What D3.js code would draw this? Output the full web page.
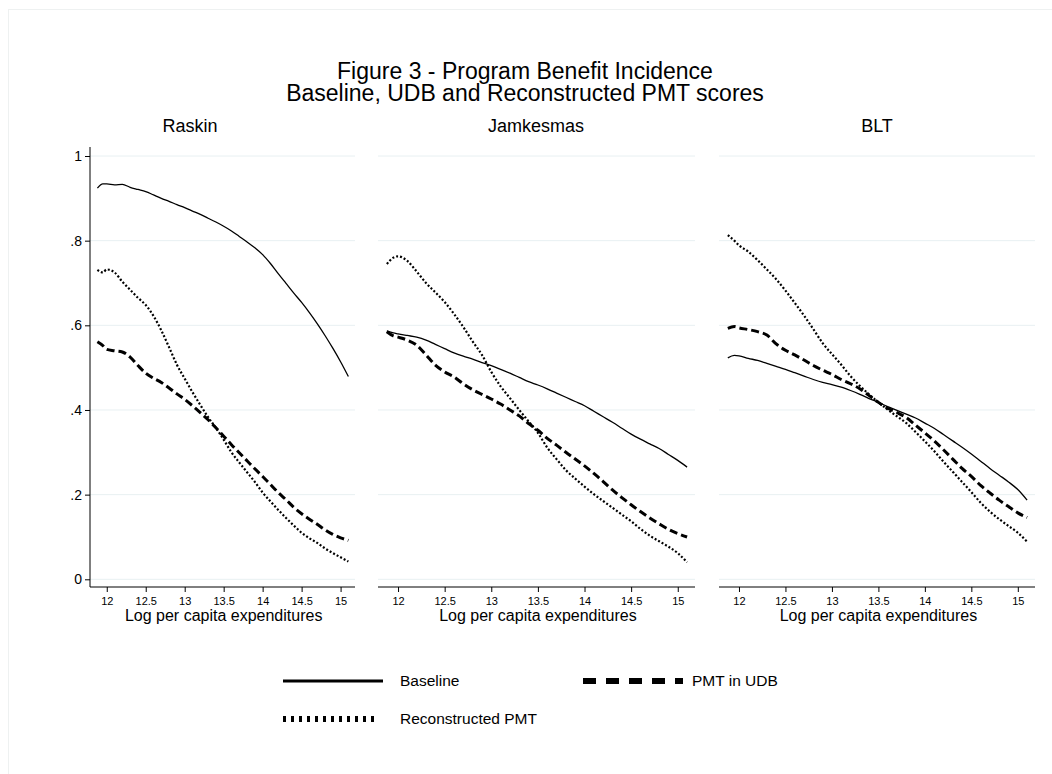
<!DOCTYPE html>
<html>
<head>
<meta charset="utf-8">
<script src="https://cdn.jsdelivr.net/npm/d3@7"></script>
<style>
  body { margin: 0; background: #fff; }
  svg text { font-family: "Liberation Sans", Arial, sans-serif; fill: #000; }
</style>
</head>
<body>
<div id="chart"></div>
<script>
// Data
const panelNames = ["Raskin", "Jamkesmas", "BLT"];
const seriesNames = ["Baseline", "PMT in UDB", "Reconstructed PMT"];
const xTicks = [12, 12.5, 13, 13.5, 14, 14.5, 15];
const yTicks = [0, 0.2, 0.4, 0.6, 0.8, 1];
const yTickLabels = ["0", ".2", ".4", ".6", ".8", "1"];

const logExp = [11.88, 11.95, 12.0, 12.1, 12.2, 12.3, 12.4, 12.5, 12.6, 12.7, 12.8, 12.9,
  13.0, 13.1, 13.2, 13.3, 13.4, 13.5, 13.6, 13.7, 13.8, 13.9, 14.0, 14.1, 14.2, 14.3,
  14.4, 14.5, 14.6, 14.7, 14.8, 14.9, 15.0, 15.1];

const raskinBase = [.924, .934, .934, .932, .933, .926, .921, .916, .908, .900, .893, .885,
  .878, .870, .862, .853, .844, .834, .823, .810, .797, .783, .767, .746, .722, .699,
  .676, .654, .630, .604, .576, .546, .514, .479];
const raskinUdb = [.561, .552, .543, .540, .537, .525, .505, .487, .475, .465, .452, .438,
  .425, .410, .394, .377, .358, .338, .318, .299, .280, .261, .243, .224, .205, .188,
  .170, .155, .142, .130, .117, .106, .098, .092];
const raskinRec = [.731, .725, .732, .725, .703, .684, .665, .648, .622, .588, .548, .507,
  .474, .442, .412, .383, .358, .330, .300, .276, .253, .230, .205, .184, .164, .145,
  .127, .110, .097, .086, .073, .062, .052, .042];

const jamBase = [.587, .582, .580, .576, .572, .565, .555, .545, .535, .527, .520, .512,
  .505, .496, .487, .477, .467, .459, .450, .440, .430, .420, .410, .397, .384, .371,
  .357, .343, .331, .320, .309, .295, .281, .265];
const jamUdb = [.585, .575, .572, .565, .553, .530, .506, .490, .478, .462, .448, .437,
  .426, .414, .400, .386, .368, .352, .333, .317, .300, .284, .268, .250, .231, .211,
  .193, .176, .160, .145, .131, .118, .108, .100];
const jamRec = [.745, .760, .763, .752, .727, .700, .678, .655, .627, .596, .562, .530,
  .490, .456, .428, .400, .373, .346, .311, .284, .258, .238, .219, .201, .185, .169,
  .153, .137, .119, .103, .090, .077, .062, .040];

const bltBase = [.523, .529, .528, .522, .517, .510, .503, .496, .488, .480, .472, .465,
  .460, .454, .446, .437, .427, .418, .408, .399, .390, .381, .369, .357, .342, .327,
  .312, .296, .279, .262, .246, .230, .212, .187];
const bltUdb = [.593, .597, .594, .590, .585, .577, .556, .541, .530, .518, .505, .494,
  .484, .472, .462, .450, .434, .418, .404, .394, .382, .364, .346, .327, .306, .284,
  .262, .243, .222, .204, .187, .172, .157, .146];
const bltRec = [.813, .800, .789, .774, .754, .732, .709, .682, .653, .623, .591, .558,
  .532, .507, .480, .457, .437, .418, .401, .385, .369, .348, .326, .303, .278, .254,
  .230, .206, .181, .160, .142, .126, .110, .089];

// Layout
const W = 1052, H = 774;
const PLOT_TOP = 147, PLOT_BOTTOM = 587;
const panelBox = [
  {left: 90, right: 355, titleX: 190},
  {left: 378, right: 695, titleX: 536},
  {left: 719, right: 1035, titleX: 877}
];
const X_DOMAIN = [11.785, 15.185];

const styles = [
  {width: 1.3, dash: null},
  {width: 3, dash: "8,4"},
  {width: 2.2, dash: "2,2"}
];
const legendStyles = [
  {width: 3, dash: null},
  {width: 6, dash: "13,10"},
  {width: 6, dash: "3,5"}
];

const panels = [
  [raskinBase, raskinUdb, raskinRec],
  [jamBase, jamUdb, jamRec],
  [bltBase, bltUdb, bltRec]
].map((ser, i) => ({
  name: panelNames[i],
  box: panelBox[i],
  series: ser.map(vals => logExp.map((x, j) => ({x: x, y: vals[j]})))
}));

const svg = d3.select("#chart").append("svg")
  .attr("width", W)
  .attr("height", H);

svg.append("rect").attr("width", W).attr("height", H).attr("fill", "#fff");
// faint outer frame
svg.append("rect")
  .attr("x", 8.5).attr("y", 9.5)
  .attr("width", 1100).attr("height", 800)
  .attr("fill", "none").attr("stroke", "#eef1f1");

// Title
const title = svg.append("g").attr("text-anchor", "middle").style("font-size", "23px");
title.append("text").attr("x", 525).attr("y", 79).text("Figure 3 - Program Benefit Incidence");
title.append("text").attr("x", 525).attr("y", 101).text("Baseline, UDB and Reconstructed PMT scores");

const y = d3.scaleLinear().domain([0, 1]).range([579.3, 156]);

panels.forEach((p, i) => {
  const x = d3.scaleLinear().domain(X_DOMAIN).range([p.box.left, p.box.right]);
  const g = svg.append("g");

  g.append("text")
    .attr("x", p.box.titleX).attr("y", 132)
    .attr("text-anchor", "middle")
    .style("font-size", "18px")
    .text(p.name);

  // grid lines
  g.selectAll(".grid").data(yTicks).join("line")
    .attr("x1", p.box.left).attr("x2", p.box.right)
    .attr("y1", d => y(d)).attr("y2", d => y(d))
    .attr("stroke", "#e8f0f2").attr("stroke-width", 1);

  // x axis
  const xAxis = d3.axisBottom(x).tickValues(xTicks).tickSize(5).tickPadding(5.5)
    .tickFormat(d3.format(""));
  const xg = g.append("g").attr("transform", `translate(0,${PLOT_BOTTOM})`).call(xAxis);
  xg.select(".domain").attr("d", `M${p.box.left},0H${p.box.right}`).attr("stroke", "#000");
  xg.selectAll(".tick text").style("font-size", "11px").attr("fill", "#000");
  xg.selectAll(".tick line").attr("stroke", "#000");

  g.append("text")
    .attr("x", (x(12) + x(15)) / 2).attr("y", 621)
    .attr("text-anchor", "middle")
    .style("font-size", "16px")
    .text("Log per capita expenditures");

  if (i === 0) {
    const yAxis = d3.axisLeft(y).tickValues(yTicks).tickSize(5).tickPadding(3)
      .tickFormat((d, k) => yTickLabels[k]);
    const yg = g.append("g").attr("transform", `translate(${p.box.left},0)`).call(yAxis);
    yg.select(".domain").attr("d", `M0,${PLOT_TOP}V${PLOT_BOTTOM}`).attr("stroke", "#000");
    yg.selectAll(".tick text").style("font-size", "14px").attr("fill", "#000");
    yg.selectAll(".tick line").attr("stroke", "#000");
  }

  const line = d3.line().x(d => x(d.x)).y(d => y(d.y)).curve(d3.curveMonotoneX);
  g.selectAll(".series").data(p.series).join("path")
    .attr("d", line)
    .attr("fill", "none")
    .attr("stroke", "#000")
    .attr("stroke-width", (d, k) => styles[k].width)
    .attr("stroke-dasharray", (d, k) => styles[k].dash);
});

// Legend
const legendPos = [
  {x: 283, y: 681, len: 100, tx: 400},
  {x: 583, y: 681, len: 100, tx: 692},
  {x: 283, y: 719, len: 95, tx: 400}
];
const legend = svg.append("g");
seriesNames.forEach((name, k) => {
  const pos = legendPos[k];
  legend.append("line")
    .attr("x1", pos.x).attr("x2", pos.x + pos.len)
    .attr("y1", pos.y).attr("y2", pos.y)
    .attr("stroke", "#000")
    .attr("stroke-width", legendStyles[k].width)
    .attr("stroke-dasharray", legendStyles[k].dash);
  legend.append("text")
    .attr("x", pos.tx).attr("y", pos.y).attr("dy", "0.35em")
    .style("font-size", "15.5px")
    .text(name);
});
</script>
</body>
</html>
